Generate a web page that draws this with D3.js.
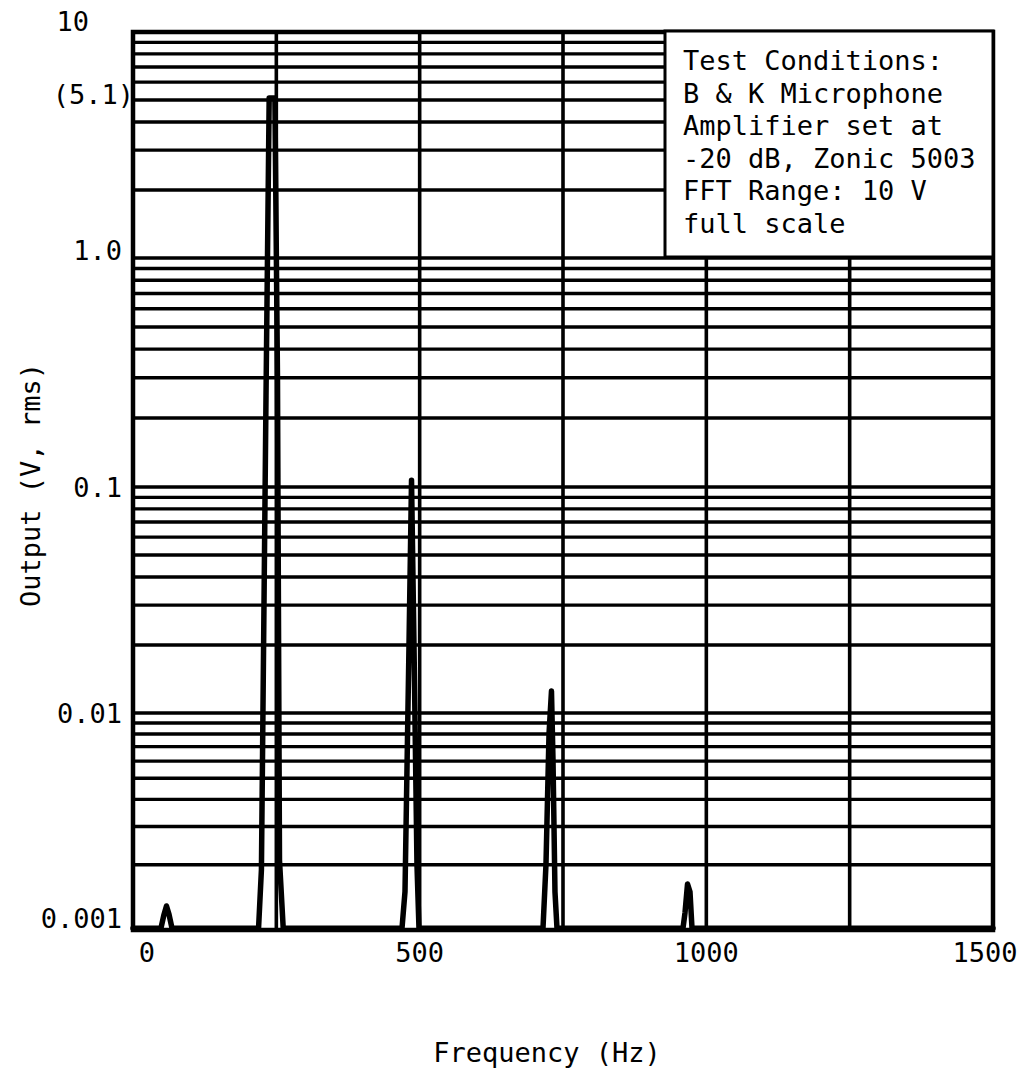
<!DOCTYPE html>
<html>
<head>
<meta charset="utf-8">
<script src="https://cdn.jsdelivr.net/npm/d3@7/dist/d3.min.js"></script>
<style>
  html, body { margin: 0; padding: 0; background: #fff; }
  svg { display: block; }
  text { font-family: 'DejaVu Sans Mono', 'Liberation Mono', monospace; fill: #000; }
</style>
</head>
<body>
<svg id="chart" width="1022" height="1069"></svg>
<script>
// ---------------- data ----------------
const freqHz = [0, 48.8, 54.1, 58.4, 62.8, 68.0,
  219, 224, 232, 237.5, 247.5, 252, 255.5, 262,
  469.2, 474.4, 481.4, 485.8, 490.1, 495.3, 498.8,
  715.1, 720.3, 725.6, 729.9, 732.6, 736, 739.5,
  959.3, 962.8, 967.2, 971.5, 975, 1500];
const outputV = [0.00102, 0.00102, 0.00118, 0.00129, 0.00118, 0.00102,
  0.00102, 0.0019, 0.25, 5.1, 5.1, 0.3, 0.0021, 0.00102,
  0.00102, 0.0015, 0.02, 0.107, 0.02, 0.002, 0.00102,
  0.00102, 0.002, 0.008, 0.0125, 0.006, 0.0015, 0.00102,
  0.00102, 0.0012, 0.00163, 0.0015, 0.00102, 0.00102];

const yTickValues = [10, 5.1, 1, 0.1, 0.01, 0.001];
const yTickLabels = ["10", "(5.1)", "1.0", "0.1", "0.01", "0.001"];
const xTickValues = [0, 500, 1000, 1500];
const xTickLabels = ["0", "500", "1000", "1500"];
const xGridValues = [250, 500, 750, 1000, 1250];
const legendLines = ["Test Conditions:", "B & K Microphone", "Amplifier set at",
  "-20 dB, Zonic 5003", "FFT Range: 10 V", "full scale"];
const xTitle = "Frequency (Hz)";
const yTitle = "Output (V, rms)";

// ---------------- layout / style ----------------
const pLeft = 133, pRight = 993, pTop = 32, pBottom = 930;
const fontSize = 27;
const yLabelStyle = [ // anchor x, baseline offset
  { x: 89, dy: -1 }, { x: 134, dy: 6 }, { x: 122, dy: 2 },
  { x: 122, dy: 10 }, { x: 122, dy: 10 }, { x: 122, dy: -2 }
];
const xLabelDx = [14, 0, 0, -8];

const svg = d3.select("#chart");

const x = d3.scaleLinear().domain([0, 1500]).range([pLeft, pRight]);
const y = d3.scaleLog()
  .domain([0.001, 0.01, 0.1, 1, 10])
  .range([pBottom, 713, 487, 258, pTop]);

// horizontal log gridlines
const yGrid = y.ticks();
svg.append("g").selectAll("line").data(yGrid).join("line")
  .attr("x1", pLeft).attr("x2", pRight)
  .attr("y1", d => y(d)).attr("y2", d => y(d))
  .attr("stroke", "#000").attr("stroke-width", 3.4);

// vertical gridlines
svg.append("g").selectAll("line").data(xGridValues).join("line")
  .attr("x1", d => x(d)).attr("x2", d => x(d))
  .attr("y1", pTop).attr("y2", pBottom)
  .attr("stroke", "#000").attr("stroke-width", 3.6);

// trace
const pts = freqHz.map((f, i) => [f, outputV[i]]);
const line = d3.line().x(d => x(d[0])).y(d => y(d[1]));
svg.append("path").datum(pts)
  .attr("d", line)
  .attr("fill", "none").attr("stroke", "#000")
  .attr("stroke-width", 5.5).attr("stroke-linejoin", "round").attr("stroke-linecap", "round");

// frame
svg.append("rect")
  .attr("x", pLeft).attr("y", pTop)
  .attr("width", pRight - pLeft).attr("height", pBottom - pTop)
  .attr("fill", "none").attr("stroke", "#000").attr("stroke-width", 4.5);

// legend box
const lg = svg.append("g");
lg.append("rect")
  .attr("x", 665).attr("y", 31).attr("width", pRight - 665).attr("height", 226)
  .attr("fill", "#fff").attr("stroke", "#000").attr("stroke-width", 3);
lg.selectAll("text").data(legendLines).join("text")
  .attr("x", 683).attr("y", (d, i) => 70 + i * 32.6)
  .attr("font-size", fontSize)
  .text(d => d);

// y tick labels
svg.append("g").selectAll("text").data(yTickValues).join("text")
  .attr("x", (d, i) => yLabelStyle[i].x)
  .attr("y", (d, i) => y(d) + yLabelStyle[i].dy)
  .attr("text-anchor", "end")
  .attr("font-size", fontSize)
  .text((d, i) => yTickLabels[i]);

// x tick labels
svg.append("g").selectAll("text").data(xTickValues).join("text")
  .attr("x", (d, i) => x(d) + xLabelDx[i])
  .attr("y", 962)
  .attr("text-anchor", "middle")
  .attr("font-size", fontSize)
  .text((d, i) => xTickLabels[i]);

// axis titles
svg.append("text")
  .attr("x", 547).attr("y", 1062)
  .attr("text-anchor", "middle")
  .attr("font-size", fontSize)
  .text(xTitle);
svg.append("text")
  .attr("transform", "translate(40,485) rotate(-90)")
  .attr("text-anchor", "middle")
  .attr("font-size", fontSize)
  .text(yTitle);
</script>
</body>
</html>
